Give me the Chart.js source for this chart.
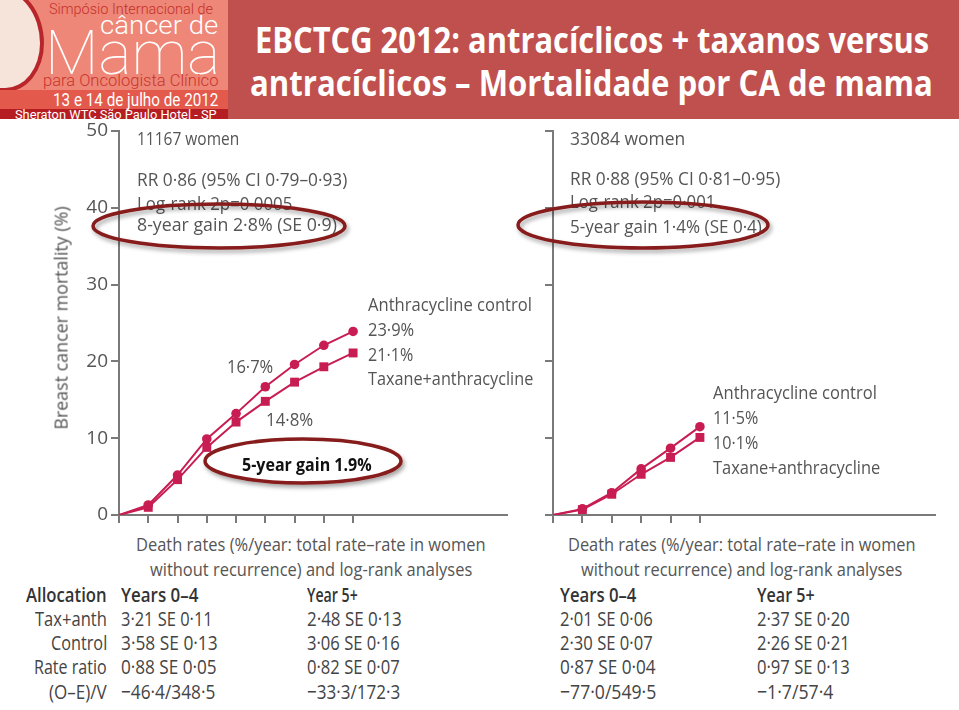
<!DOCTYPE html>
<html>
<head>
<meta charset="utf-8">
<script src="https://cdn.jsdelivr.net/npm/chart.js@4.4.0/dist/chart.umd.min.js"></script>
<style>
  body { margin: 0; width: 959px; height: 710px; overflow: hidden; background: #fff; position: relative; font-family: 'Open Sans', sans-serif; }
  .abs { position: absolute; }
  .t { position: absolute; white-space: nowrap; line-height: 1; transform-origin: 0 0; font-size: 19px; color: #555; }
  .logo { font-family: Roboto, sans-serif; font-weight: 300; }
  .tb { color: #444; font-size: 20px; }
  .hd { font-weight: 600; color: #333; }
  canvas { position: absolute; }
</style>
</head>
<body>

<!-- header -->
<div class="abs" style="left:0;top:0;width:959px;height:119px;background:#c0504d"></div>
<div class="abs" style="left:0;top:0;width:228px;height:119px;background:#ee8777;overflow:hidden">
  <div class="abs" style="left:-40px;top:-14px;width:76px;height:98px;background:#f6e4da;border:4px solid #b8262c;border-radius:50% 65% 55% 50%"></div>
  <div class="abs" style="left:0;top:90px;width:228px;height:20px;background:#e3594b"></div>
  <div class="abs" style="left:0;top:109px;width:228px;height:10px;background:#b51d22"></div>
</div>
<div class="t logo" style="font-size:14px;color:#c4302b" data-x="49" data-y="9" data-w="164" data-k="0.49">Simpósio Internacional de</div>
<div class="t logo" style="font-size:25px;color:#fff" data-x="100" data-y="25" data-w="118" data-k="0.49">câncer de</div>
<div class="t logo" style="font-size:62px;color:#fff;font-weight:100" data-x="45" data-y="52" data-w="175" data-k="0.49">Mama</div>
<div class="t logo" style="font-size:17px;color:#c8352d" data-x="43" data-y="80" data-w="175" data-k="0.49">para Oncologista Clínico</div>
<div class="t logo" style="font-size:18px;color:#fff;font-weight:400" data-x="53" data-y="100" data-w="165" data-k="0.49">13 e 14 de julho de 2012</div>
<div class="t logo" style="font-size:12px;color:#fff;font-weight:400" data-x="15" data-y="115" data-w="202" data-k="0.49">Sheraton WTC São Paulo Hotel - SP</div>
<div class="t" style="font-size:36px;font-weight:700;color:#fff" data-x="255" data-y="41" data-w="674" data-k="0.53">EBCTCG 2012: antracíclicos + taxanos versus</div>
<div class="t" style="font-size:36px;font-weight:700;color:#fff" data-x="250" data-y="84" data-w="683" data-k="0.53">antracíclicos – Mortalidade por CA de mama</div>

<!-- charts -->
<canvas id="allChart" width="540" height="420" style="left:0;top:110px;width:540px;height:420px"></canvas>
<canvas id="erChart" width="419" height="420" style="left:540px;top:110px;width:419px;height:420px"></canvas>

<div class="t" style="font-size:18px" data-x="60" data-y="318" data-w="223" data-rot="1">Breast cancer mortality (%)</div>

<!-- left chart notes -->
<div class="t" data-x="137" data-y="139" data-w="102">11167 women</div>
<div class="t" data-x="137" data-y="180" data-w="210">RR 0·86 (95% CI 0·79–0·93)</div>
<div class="t" data-x="137" data-y="204" data-w="155">Log-rank 2p=0·0005</div>
<div class="t" data-x="137" data-y="225" data-w="200">8-year gain 2·8% (SE 0·9)</div>
<div class="t" data-x="227" data-y="367" data-w="46">16·7%</div>
<div class="t" data-x="266" data-y="420" data-w="47">14·8%</div>
<div class="t" data-x="368" data-y="305" data-w="164">Anthracycline control</div>
<div class="t" data-x="368" data-y="330" data-w="46">23·9%</div>
<div class="t" data-x="368" data-y="355" data-w="45">21·1%</div>
<div class="t" data-x="368" data-y="379" data-w="165">Taxane+anthracycline</div>

<!-- right chart notes -->
<div class="t" data-x="570" data-y="139" data-w="115">33084 women</div>
<div class="t" data-x="570" data-y="179" data-w="210">RR 0·88 (95% CI 0·81–0·95)</div>
<div class="t" data-x="570" data-y="202" data-w="145">Log-rank 2p=0·001</div>
<div class="t" data-x="570" data-y="227" data-w="192">5-year gain 1·4% (SE 0·4)</div>
<div class="t" data-x="713" data-y="393" data-w="164">Anthracycline control</div>
<div class="t" data-x="713" data-y="418" data-w="45">11·5%</div>
<div class="t" data-x="713" data-y="443" data-w="45">10·1%</div>
<div class="t" data-x="713" data-y="468" data-w="167">Taxane+anthracycline</div>

<!-- death rate table -->
<div class="t" data-x="136" data-y="545" data-w="350">Death rates (%/year: total rate–rate in women</div>
<div class="t" data-x="150" data-y="570" data-w="322">without recurrence) and log-rank analyses</div>
<div class="t" data-x="568" data-y="545" data-w="348">Death rates (%/year: total rate–rate in women</div>
<div class="t" data-x="581" data-y="570" data-w="321">without recurrence) and log-rank analyses</div>

<div class="t tb hd" data-x="26" data-y="596" data-w="81">Allocation</div>
<div class="t tb hd" data-x="121" data-y="596" data-w="77">Years 0–4</div>
<div class="t tb hd" data-x="307" data-y="596" data-w="51">Year 5+</div>
<div class="t tb hd" data-x="560" data-y="596" data-w="76">Years 0–4</div>
<div class="t tb hd" data-x="757" data-y="596" data-w="58">Year 5+</div>

<div class="t tb" data-x="35" data-y="620" data-w="72">Tax+anth</div>
<div class="t tb" data-x="51" data-y="644" data-w="56">Control</div>
<div class="t tb" data-x="34" data-y="668" data-w="73">Rate ratio</div>
<div class="t tb" data-x="49" data-y="693" data-w="58">(O–E)/V</div>

<div class="t tb" data-x="121" data-y="620" data-w="92">3·21 SE 0·11</div>
<div class="t tb" data-x="121" data-y="644" data-w="97">3·58 SE 0·13</div>
<div class="t tb" data-x="121" data-y="668" data-w="96">0·88 SE 0·05</div>
<div class="t tb" data-x="121" data-y="693" data-w="94">−46·4/348·5</div>
<div class="t tb" data-x="307" data-y="620" data-w="95">2·48 SE 0·13</div>
<div class="t tb" data-x="307" data-y="644" data-w="93">3·06 SE 0·16</div>
<div class="t tb" data-x="307" data-y="668" data-w="93">0·82 SE 0·07</div>
<div class="t tb" data-x="307" data-y="693" data-w="93">−33·3/172·3</div>
<div class="t tb" data-x="560" data-y="620" data-w="93">2·01 SE 0·06</div>
<div class="t tb" data-x="560" data-y="644" data-w="93">2·30 SE 0·07</div>
<div class="t tb" data-x="560" data-y="668" data-w="96">0·87 SE 0·04</div>
<div class="t tb" data-x="560" data-y="693" data-w="96">−77·0/549·5</div>
<div class="t tb" data-x="757" data-y="620" data-w="93">2·37 SE 0·20</div>
<div class="t tb" data-x="757" data-y="644" data-w="93">2·26 SE 0·21</div>
<div class="t tb" data-x="757" data-y="668" data-w="93">0·97 SE 0·13</div>
<div class="t tb" data-x="757" data-y="693" data-w="76">−1·7/57·4</div>

<!-- highlight ellipses -->
<svg class="abs" width="959" height="710" style="left:0;top:0">
  <defs>
    <filter id="sh" x="-20%" y="-50%" width="140%" height="200%">
      <feDropShadow dx="2" dy="3" stdDeviation="2" flood-color="#000" flood-opacity="0.35"/>
    </filter>
  </defs>
  <ellipse cx="219" cy="226" rx="126" ry="22" fill="none" stroke="#861a1a" stroke-width="3.5" filter="url(#sh)"/>
  <ellipse cx="643" cy="225" rx="125" ry="23" fill="none" stroke="#861a1a" stroke-width="3.5" filter="url(#sh)"/>
  <ellipse cx="303" cy="461" rx="98" ry="22" fill="#fff" stroke="#861a1a" stroke-width="3.5" filter="url(#sh)"/>
</svg>
<div class="t" style="font-size:18px;font-weight:700;color:#111" data-x="242" data-y="465" data-w="130">5-year gain 1.9%</div>

<script>
// all women (left) and the second cohort (right), % breast cancer mortality by year
const years = [0, 1, 2, 3, 4, 5, 6, 7, 8];
const controlAll = [0, 1.3, 5.2, 9.9, 13.2, 16.7, 19.6, 22.1, 23.9];
const taxaneAll = [0, 1.0, 4.6, 8.8, 12.1, 14.8, 17.3, 19.3, 21.1];
const yearsB = [0, 1, 2, 3, 4, 5];
const controlB = [0, 0.8, 2.9, 6.0, 8.7, 11.5];
const taxaneB = [0, 0.7, 2.7, 5.3, 7.5, 10.1];
const yTicks = [0, 10, 20, 30, 40, 50];

const red = '#c81d52';
const grey = '#7a7a7a';

function series(xs, ys, style, r) {
  return {
    data: xs.map((x, i) => ({ x: x, y: ys[i] })),
    borderColor: red,
    backgroundColor: red,
    borderWidth: 2,
    pointStyle: style,
    pointRadius: xs.map(x => x === 0 ? 0 : r),
    pointBorderWidth: 0,
    tension: 0
  };
}

function makeChart(id, xs, ctrl, tax, o) {
  return new Chart(document.getElementById(id), {
    type: 'line',
    data: { datasets: [series(xs, ctrl, 'circle', 4.8), series(xs, tax, 'rect', 6.3)] },
    options: {
      responsive: false,
      animation: false,
      layout: { padding: { left: 0, right: o.padRight, top: 21, bottom: 0 } },
      plugins: { legend: { display: false }, tooltip: { enabled: false } },
      scales: {
        x: {
          type: 'linear', min: 0, max: o.xMax,
          afterBuildTicks: s => { s.ticks = xs.map(v => ({ value: v })); },
          afterFit: s => { s.height = 15; },
          ticks: { callback: () => '' },
          grid: { drawOnChartArea: false, tickLength: 8, color: grey, lineWidth: 2 },
          border: { color: grey, width: 2 }
        },
        y: {
          min: 0, max: 50,
          afterBuildTicks: s => { s.ticks = yTicks.map(v => ({ value: v })); },
          afterFit: s => { s.width = o.yWidth; },
          ticks: {
            callback: v => o.labels ? String(v) : '',
            font: { family: 'Open Sans', size: 19 },
            color: '#555',
            padding: 3
          },
          grid: { drawOnChartArea: false, tickLength: 8, color: grey, lineWidth: 2 },
          border: { color: grey, width: 2 }
        }
      }
    }
  });
}

function placeText() {
  document.querySelectorAll('.t').forEach(el => {
    const fs = parseFloat(getComputedStyle(el).fontSize);
    const w = el.offsetWidth;
    const s = el.dataset.w ? el.dataset.w / w : 1;
    if (el.dataset.rot) {
      el.style.left = (el.dataset.x - w / 2) + 'px';
      el.style.top = (el.dataset.y - el.offsetHeight / 2) + 'px';
      el.style.transformOrigin = 'center';
      el.style.transform = `rotate(-90deg) scaleX(${s})`;
    } else {
      const k = el.dataset.k ? parseFloat(el.dataset.k) : 0.55;
      el.style.left = el.dataset.x + 'px';
      el.style.top = (el.dataset.y - k * fs) + 'px';
      el.style.transform = `scaleX(${s})`;
    }
  });
}

document.fonts.ready.then(() => {
  placeText();
  makeChart('allChart', years, controlAll, taxaneAll, { padRight: 33, xMax: 13.26, yWidth: 119, labels: true });
  makeChart('erChart', yearsB, controlB, taxaneB, { padRight: 24, xMax: 13, yWidth: 13, labels: false });
});
</script>
</body>
</html>
